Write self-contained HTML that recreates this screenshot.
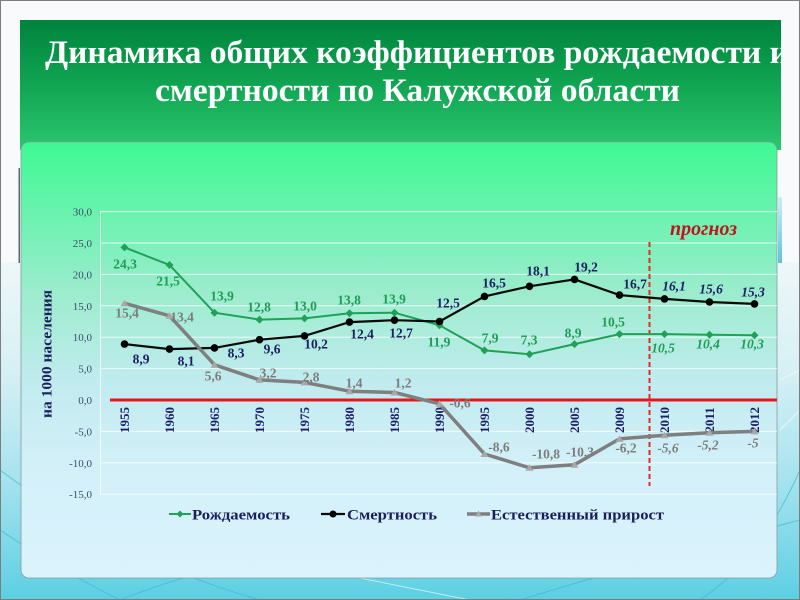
<!DOCTYPE html>
<html><head><meta charset="utf-8"><style>
html,body{margin:0;padding:0;background:#fff;}
svg{display:block;}
</style></head><body>
<svg width="800" height="600" viewBox="0 0 800 600" xmlns="http://www.w3.org/2000/svg" font-family="'Liberation Serif', serif">
<defs>
<linearGradient id="bg" x1="0" y1="0" x2="0" y2="1">
<stop offset="0" stop-color="#f8fafb"/>
<stop offset="0.4" stop-color="#f3f8f9"/>
<stop offset="0.62" stop-color="#d6f0f5"/>
<stop offset="0.8" stop-color="#a6e3ee"/>
<stop offset="1" stop-color="#5ccfe3"/>
</linearGradient>
<linearGradient id="hdr" x1="0" y1="0" x2="0" y2="1">
<stop offset="0" stop-color="#00833d"/>
<stop offset="0.5" stop-color="#10a552"/>
<stop offset="1" stop-color="#2cc76f"/>
</linearGradient>
<linearGradient id="pnl" x1="0" y1="0" x2="0" y2="1">
<stop offset="0" stop-color="#3ef993"/>
<stop offset="0.15" stop-color="#66f3ad"/>
<stop offset="0.35" stop-color="#9decce"/>
<stop offset="0.55" stop-color="#c1ebef"/>
<stop offset="0.75" stop-color="#d3f0f9"/>
<stop offset="1" stop-color="#dbf3fd"/>
</linearGradient>
<linearGradient id="bar" x1="0" y1="0" x2="0" y2="1">
<stop offset="0" stop-color="#d0eef6"/>
<stop offset="1" stop-color="#5cc2e0"/>
</linearGradient>
<clipPath id="hclip"><rect x="20" y="20" width="761" height="130"/></clipPath>
</defs>

<!-- slide background -->
<rect x="0" y="0" width="800" height="600" fill="url(#bg)"/>
<rect x="0" y="0" width="800" height="262" fill="#f8fafb"/>
<g stroke="#3cb9d2" stroke-width="1" fill="none" opacity="0.7">
<path d="M0 470 Q 120 560 260 600"/>
<path d="M0 530 Q 60 570 120 600"/>
<path d="M120 600 Q 220 560 420 520"/>
<path d="M520 600 Q 650 560 800 520"/>
<path d="M700 600 Q 760 560 800 470"/>
</g>
<g stroke="#ffffff" stroke-width="1" fill="none" opacity="0.6">
<path d="M780 380 L 800 370"/>
<path d="M780 430 L 800 410"/>
<path d="M360 578 Q 420 590 470 600"/>
</g>
<rect x="0.5" y="0.5" width="799" height="599" fill="none" stroke="#7d7d7d" stroke-width="1"/>

<!-- side artifacts -->
<rect x="18.5" y="168" width="1.5" height="95" fill="#5a6a7a"/>
<rect x="778" y="197" width="4" height="66" fill="url(#bar)"/>

<!-- header -->
<rect x="20" y="20" width="761" height="130" fill="url(#hdr)"/>
<g clip-path="url(#hclip)" fill="#ffffff" font-weight="bold" font-size="33">
<text x="45" y="63" textLength="744" lengthAdjust="spacingAndGlyphs">Динамика общих коэффициентов рождаемости и</text>
<text x="155" y="101" textLength="525" lengthAdjust="spacingAndGlyphs">смертности по Калужской области</text>
</g>

<!-- chart panel -->
<rect x="21" y="142" width="756" height="436" rx="8" ry="8" fill="url(#pnl)" stroke="#8a9a9a" stroke-width="0.8"/>

<!-- gridlines -->
<g stroke="#ffffff" stroke-width="1" opacity="0.75">
<line x1="100" y1="211.6" x2="777" y2="211.6"/>
<line x1="100" y1="243" x2="777" y2="243"/>
<line x1="100" y1="274.4" x2="777" y2="274.4"/>
<line x1="100" y1="305.8" x2="777" y2="305.8"/>
<line x1="100" y1="337.2" x2="777" y2="337.2"/>
<line x1="100" y1="368.6" x2="777" y2="368.6"/>
<line x1="100" y1="431.4" x2="777" y2="431.4"/>
<line x1="100" y1="462.8" x2="777" y2="462.8"/>
<line x1="100" y1="494.2" x2="777" y2="494.2"/>
<line x1="100.5" y1="211.6" x2="100.5" y2="494.2"/>
</g>

<!-- y tick labels -->
<g font-size="11" fill="#3d4b6c" text-anchor="end">
<text x="92" y="215.6">30,0</text>
<text x="92" y="247">25,0</text>
<text x="92" y="278.4">20,0</text>
<text x="92" y="309.8">15,0</text>
<text x="92" y="341.2">10,0</text>
<text x="92" y="372.6">5,0</text>
<text x="92" y="404">0,0</text>
<text x="92" y="435.4">-5,0</text>
<text x="92" y="466.8">-10,0</text>
<text x="92" y="498.2">-15,0</text>
</g>

<!-- y axis title -->
<text transform="translate(51.5,354) rotate(-90)" text-anchor="middle" font-size="15" font-weight="bold" fill="#1b1f5e" textLength="128" lengthAdjust="spacingAndGlyphs">на 1000 населения</text>

<!-- zero line -->
<line x1="110" y1="400" x2="777" y2="400" stroke="#e8161c" stroke-width="3"/>

<!-- x labels -->
<g font-size="13" font-weight="bold" fill="#1b1f6a" text-anchor="middle">
<text transform="translate(129,420) rotate(-90)">1955</text>
<text transform="translate(174,420) rotate(-90)">1960</text>
<text transform="translate(219,420) rotate(-90)">1965</text>
<text transform="translate(264,420) rotate(-90)">1970</text>
<text transform="translate(309,420) rotate(-90)">1975</text>
<text transform="translate(354,420) rotate(-90)">1980</text>
<text transform="translate(399,420) rotate(-90)">1985</text>
<text transform="translate(444,420) rotate(-90)">1990</text>
<text transform="translate(489,420) rotate(-90)">1995</text>
<text transform="translate(534,420) rotate(-90)">2000</text>
<text transform="translate(579,420) rotate(-90)">2005</text>
<text transform="translate(624,420) rotate(-90)">2009</text>
<text transform="translate(669,420) rotate(-90)">2010</text>
<text transform="translate(714,420) rotate(-90)">2011</text>
<text transform="translate(759,420) rotate(-90)">2012</text>
</g>

<!-- forecast divider -->
<line x1="649.5" y1="242" x2="649.5" y2="486" stroke="#e02a2a" stroke-width="2" stroke-dasharray="5,3"/>
<text x="670" y="235" font-size="20" font-style="italic" font-weight="bold" fill="#c0141c" textLength="67" lengthAdjust="spacingAndGlyphs">прогноз</text>

<!-- births (green) -->
<polyline fill="none" stroke="#1fa256" stroke-width="2" points="124.5,247.4 169.5,265.0 214.5,312.7 259.5,319.6 304.5,318.4 349.5,313.3 394.5,312.7 439.5,325.3 484.5,350.4 529.5,354.2 574.5,344.1 619.5,334.1 664.5,334.1 709.5,334.7 754.5,335.3"/>
<g fill="#1fa256">
<polygon points="124.5,243.4 128.5,247.4 124.5,251.4 120.5,247.4"/>
<polygon points="169.5,261 173.5,265 169.5,269 165.5,265"/>
<polygon points="214.5,308.7 218.5,312.7 214.5,316.7 210.5,312.7"/>
<polygon points="259.5,315.6 263.5,319.6 259.5,323.6 255.5,319.6"/>
<polygon points="304.5,314.4 308.5,318.4 304.5,322.4 300.5,318.4"/>
<polygon points="349.5,309.3 353.5,313.3 349.5,317.3 345.5,313.3"/>
<polygon points="394.5,308.7 398.5,312.7 394.5,316.7 390.5,312.7"/>
<polygon points="439.5,321.3 443.5,325.3 439.5,329.3 435.5,325.3"/>
<polygon points="484.5,346.4 488.5,350.4 484.5,354.4 480.5,350.4"/>
<polygon points="529.5,350.2 533.5,354.2 529.5,358.2 525.5,354.2"/>
<polygon points="574.5,340.1 578.5,344.1 574.5,348.1 570.5,344.1"/>
<polygon points="619.5,330.1 623.5,334.1 619.5,338.1 615.5,334.1"/>
<polygon points="664.5,330.1 668.5,334.1 664.5,338.1 660.5,334.1"/>
<polygon points="709.5,330.7 713.5,334.7 709.5,338.7 705.5,334.7"/>
<polygon points="754.5,331.3 758.5,335.3 754.5,339.3 750.5,335.3"/>
</g>

<!-- deaths (black) -->
<polyline fill="none" stroke="#0a0a0a" stroke-width="2.2" points="124.5,344.1 169.5,349.1 214.5,347.9 259.5,339.7 304.5,335.9 349.5,322.1 394.5,320.2 439.5,321.5 484.5,296.4 529.5,286.3 574.5,279.4 619.5,295.1 664.5,298.9 709.5,302.0 754.5,303.9"/>
<g fill="#000">
<circle cx="124.5" cy="344.1" r="3.8"/>
<circle cx="169.5" cy="349.1" r="3.8"/>
<circle cx="214.5" cy="347.9" r="3.8"/>
<circle cx="259.5" cy="339.7" r="3.8"/>
<circle cx="304.5" cy="335.9" r="3.8"/>
<circle cx="349.5" cy="322.1" r="3.8"/>
<circle cx="394.5" cy="320.2" r="3.8"/>
<circle cx="439.5" cy="321.5" r="3.8"/>
<circle cx="484.5" cy="296.4" r="3.8"/>
<circle cx="529.5" cy="286.3" r="3.8"/>
<circle cx="574.5" cy="279.4" r="3.8"/>
<circle cx="619.5" cy="295.1" r="3.8"/>
<circle cx="664.5" cy="298.9" r="3.8"/>
<circle cx="709.5" cy="302.0" r="3.8"/>
<circle cx="754.5" cy="303.9" r="3.8"/>
</g>

<!-- natural increase (gray) -->
<polyline fill="none" stroke="#7f7f7f" stroke-width="3.5" stroke-linejoin="round" points="124.5,303.3 169.5,315.8 214.5,364.8 259.5,379.9 304.5,382.4 349.5,391.2 394.5,392.5 439.5,403.8 484.5,454.0 529.5,467.8 574.5,464.7 619.5,438.9 664.5,435.2 709.5,432.7 754.5,431.4"/>
<g fill="#a8a8a8">
<polygon points="124.5,299.8 128.5,306.3 120.5,306.3"/>
<polygon points="169.5,312.3 173.5,318.8 165.5,318.8"/>
<polygon points="214.5,361.3 218.5,367.8 210.5,367.8"/>
<polygon points="259.5,376.4 263.5,382.9 255.5,382.9"/>
<polygon points="304.5,378.9 308.5,385.4 300.5,385.4"/>
<polygon points="349.5,387.7 353.5,394.2 345.5,394.2"/>
<polygon points="394.5,389 398.5,395.5 390.5,395.5"/>
<polygon points="439.5,400.3 443.5,406.8 435.5,406.8"/>
<polygon points="484.5,450.5 488.5,457 480.5,457"/>
<polygon points="529.5,464.3 533.5,470.8 525.5,470.8"/>
<polygon points="574.5,461.2 578.5,467.7 570.5,467.7"/>
<polygon points="619.5,435.4 623.5,441.9 615.5,441.9"/>
<polygon points="664.5,431.7 668.5,438.2 660.5,438.2"/>
<polygon points="709.5,429.2 713.5,435.7 705.5,435.7"/>
<polygon points="754.5,427.9 758.5,434.4 750.5,434.4"/>
</g>

<!-- data labels: green -->
<g font-size="13.5" font-weight="bold" fill="#1f9e55" text-anchor="middle">
<text x="125" y="268.5">24,3</text>
<text x="168" y="285.5">21,5</text>
<text x="222" y="300.5">13,9</text>
<text x="259" y="311.5">12,8</text>
<text x="305" y="310.5">13,0</text>
<text x="349" y="304.5">13,8</text>
<text x="394" y="303.5">13,9</text>
<text x="439" y="346.5">11,9</text>
<text x="490" y="342.5">7,9</text>
<text x="529" y="344.5">7,3</text>
<text x="573" y="337.5">8,9</text>
<text x="613" y="326.5">10,5</text>
<text x="663" y="352.5" font-style="italic">10,5</text>
<text x="708" y="348.5" font-style="italic">10,4</text>
<text x="752" y="348.5" font-style="italic">10,3</text>
</g>

<!-- data labels: black -->
<g font-size="13.5" font-weight="bold" fill="#1d2062" text-anchor="middle">
<text x="141" y="363.5">8,9</text>
<text x="186" y="365.5">8,1</text>
<text x="236" y="357.5">8,3</text>
<text x="272" y="353.5">9,6</text>
<text x="316" y="348.5">10,2</text>
<text x="362" y="338.5">12,4</text>
<text x="401" y="337.5">12,7</text>
<text x="448" y="307.5">12,5</text>
<text x="494" y="287.5">16,5</text>
<text x="538" y="275.5">18,1</text>
<text x="586" y="271.5">19,2</text>
<text x="635" y="288.5">16,7</text>
<text x="674" y="290.5" font-style="italic">16,1</text>
<text x="711" y="293.5" font-style="italic">15,6</text>
<text x="753" y="296.5" font-style="italic">15,3</text>
</g>

<!-- data labels: gray -->
<g font-size="13.5" font-weight="bold" fill="#7d7d7d" text-anchor="middle">
<text x="127" y="317.5">15,4</text>
<text x="182" y="321.5">13,4</text>
<text x="213" y="380.5">5,6</text>
<text x="268" y="377.5">3,2</text>
<text x="311" y="381.5">2,8</text>
<text x="354" y="387.5">1,4</text>
<text x="403" y="387.5">1,2</text>
<text x="460" y="407.5">-0,6</text>
<text x="499" y="451.5">-8,6</text>
<text x="546" y="458.5">-10,8</text>
<text x="580" y="456.5">-10,3</text>
<text x="626" y="452.5">-6,2</text>
<text x="668" y="452.5" font-style="italic">-5,6</text>
<text x="708" y="449.5" font-style="italic">-5,2</text>
<text x="753" y="447.5" font-style="italic">-5</text>
</g>

<!-- legend -->
<line x1="169" y1="514" x2="191" y2="514" stroke="#1fa256" stroke-width="2"/>
<polygon points="180,510.5 183.5,514 180,517.5 176.5,514" fill="#1fa256"/>
<text x="192" y="519.5" font-size="15" font-weight="bold" fill="#1a1f5c" textLength="98" lengthAdjust="spacingAndGlyphs">Рождаемость</text>
<line x1="321" y1="514" x2="345" y2="514" stroke="#0a0a0a" stroke-width="2.2"/>
<circle cx="333" cy="514" r="3.5" fill="#000"/>
<text x="347" y="519.5" font-size="15" font-weight="bold" fill="#1a1f5c" textLength="90" lengthAdjust="spacingAndGlyphs">Смертность</text>
<line x1="467" y1="514" x2="490" y2="514" stroke="#7f7f7f" stroke-width="3.5"/>
<polygon points="478.5,510.5 482,516.5 475,516.5" fill="#a8a8a8"/>
<text x="491" y="519.5" font-size="15" font-weight="bold" fill="#1a1f5c" textLength="173" lengthAdjust="spacingAndGlyphs">Естественный прирост</text>
</svg>
</body></html>
